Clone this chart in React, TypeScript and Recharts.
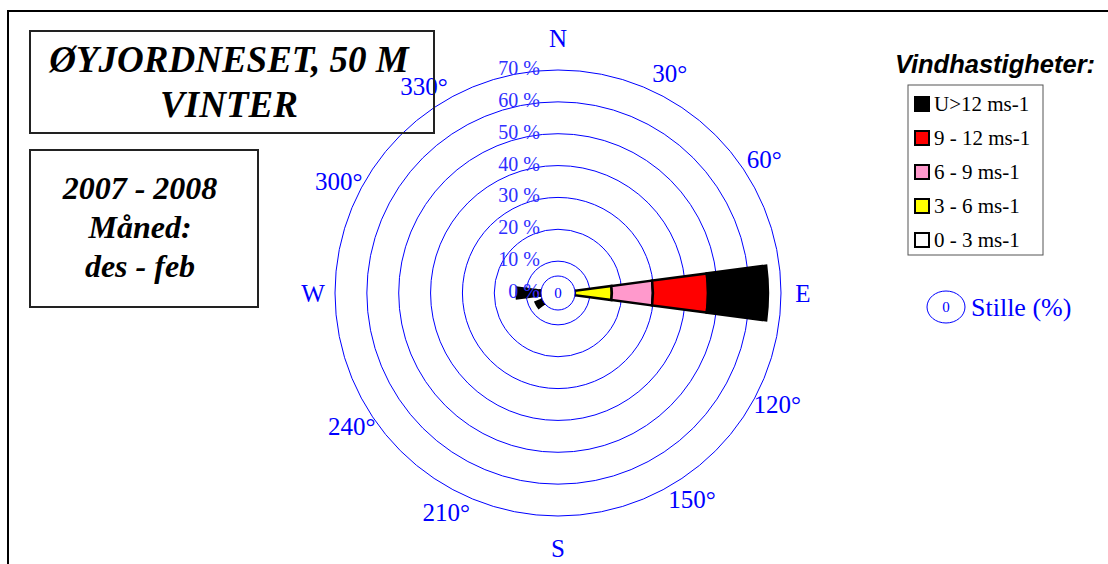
import React from "react";
import {
  RadialBarChart,
  RadialBar,
  PolarGrid,
  PolarAngleAxis,
  PolarRadiusAxis,
} from "recharts";

// wind direction bins (degrees from north), 15 degree sectors
const directions = [0, 15, 30, 45, 60, 75, 90, 105, 120, 135, 150, 165, 180, 195, 210, 225, 240, 255, 270, 285, 300, 315, 330, 345];

// frequency (%) per speed class and direction
const speed0to3 = [0, 0, 0, 0, 0, 0, 5.3, 0, 0, 0, 0, 0, 0, 0, 0, 0, 5.3, 0, 5.3, 0, 0, 0, 0, 0];
const speed3to6 = [0, 0, 0, 0, 0, 0, 11.6, 0, 0, 0, 0, 0, 0, 0, 0, 0, 0, 0, 0.2, 0, 0, 0, 0, 0];
const speed6to9 = [0, 0, 0, 0, 0, 0, 12.9, 0, 0, 0, 0, 0, 0, 0, 0, 0, 0, 0, 0.2, 0, 0, 0, 0, 0];
const speed9to12 = [0, 0, 0, 0, 0, 0, 17.3, 0, 0, 0, 0, 0, 0, 0, 0, 0, 0.3, 0, 1.2, 0, 0, 0, 0, 0];
const speedOver12 = [0, 0, 0, 0, 0, 0, 18.8, 0, 0, 0, 0, 0, 0, 0, 0, 0, 2.0, 0, 6.1, 0, 0, 0, 0, 0];

const calmPercent = 0;
const radiusTicks = [0, 10, 20, 30, 40, 50, 60, 70];
const labelAngles = [0, 30, 60, 90, 120, 150, 180, 210, 240, 270, 300, 330];
const angleLabels = ["N", "30°", "60°", "E", "120°", "150°", "S", "210°", "240°", "W", "300°", "330°"];
const legendNames = ["U>12 ms-1", "9 - 12 ms-1", "6 - 9 ms-1", "3 - 6 ms-1", "0 - 3 ms-1"];
const legendColors = ["#000000", "#ff0000", "#ff99cc", "#ffff00", "#ffffff"];

const data = directions.map((dir, i) => ({
  dir,
  s0: speed0to3[i],
  s1: speed3to6[i],
  s2: speed6to9[i],
  s3: speed9to12[i],
  s4: speedOver12[i],
}));

const CX = 558;
const CY = 293;
const BLUE = "#0000ff";
const SERIF = "'Liberation Serif', 'Times New Roman', serif";
const SANS = "'Liberation Sans', Arial, sans-serif";

const RadiusTick = (props: any) => {
  const { x, y, payload } = props;
  return (
    <text x={x - 18} y={y - 2} textAnchor="end" dominantBaseline="central" fill="#2f2fff" fontSize={20} fontFamily={SERIF}>
      {`${payload.value} %`}
    </text>
  );
};

const AngleTick = (props: any) => {
  const { payload } = props;
  const i = labelAngles.indexOf(Number(payload.value));
  if (i < 0) return <g />;
  const letter = i % 3 === 0;
  // N/S sit a bit further out than E/W
  const r = letter ? (i % 6 === 0 ? 255 : 245) : 246;
  const a = ((Number(payload.value) - (letter ? 0 : 3)) * Math.PI) / 180;
  const x = CX + r * Math.sin(a);
  const y = CY - r * Math.cos(a);
  return (
    <text x={x} y={y} textAnchor="middle" dominantBaseline="central" fill={BLUE} fontSize={25} fontFamily={SERIF}>
      {angleLabels[i]}
    </text>
  );
};

export default function App() {
  const fills = ["#ffffff", "#ffff00", "#ff99cc", "#ff0000", "#000000"];
  return (
    <div style={{ position: "absolute", left: 0, top: 0, width: 1108, height: 564, background: "#fff", overflow: "hidden" }}>
      <RadialBarChart
        width={1108}
        height={564}
        data={data}
        cx={CX}
        cy={CY}
        innerRadius={0}
        outerRadius={223}
        startAngle={82.5}
        endAngle={-277.5}
        layout="centric"
        barCategoryGap={0}
        barGap={0}
        margin={{ top: 0, right: 0, bottom: 0, left: 0 }}
      >
        <PolarGrid gridType="circle" radialLines={false} stroke={BLUE} strokeWidth={1} />
        <PolarAngleAxis dataKey="dir" type="category" axisLine={false} tickLine={false} tick={<AngleTick />} />
        {fills.map((f, k) => (
          <RadialBar
            key={k}
            dataKey={`s${k}`}
            stackId="a"
            fill={f}
            stroke="#000"
            strokeWidth={2.5}
            isAnimationActive={false}
          />
        ))}
        <PolarRadiusAxis
          angle={90}
          type="number"
          domain={[0, 70]}
          ticks={radiusTicks}
          axisLine={false}
          tickLine={false}
          tick={<RadiusTick />}
        />
      </RadialBarChart>

      <svg width={1108} height={564} style={{ position: "absolute", left: 0, top: 0, pointerEvents: "none" }}>
        <rect x={8} y={11} width={1200} height={700} fill="none" stroke="#000" strokeWidth={2} />

        {/* calm circle */}
        <circle cx={CX} cy={CY} r={17} fill="#fff" stroke={BLUE} strokeWidth={1} />
        <text x={CX} y={CY} textAnchor="middle" dominantBaseline="central" fill={BLUE} fontSize={15} fontFamily={SERIF}>
          {calmPercent}
        </text>

        {/* title boxes */}
        <rect x={30} y={31} width={404} height={102} fill="none" stroke="#222" strokeWidth={2} />
        <text x={229} y={72} textAnchor="middle" fontSize={37} fontWeight="bold" fontStyle="italic" fontFamily={SERIF}>
          ØYJORDNESET, 50 M
        </text>
        <text x={229} y={117} textAnchor="middle" fontSize={37} fontWeight="bold" fontStyle="italic" fontFamily={SERIF}>
          VINTER
        </text>

        <rect x={30} y={150} width={228} height={157} fill="none" stroke="#222" strokeWidth={2} />
        <text x={140} y={199} textAnchor="middle" fontSize={32} fontWeight="bold" fontStyle="italic" fontFamily={SERIF}>
          2007 - 2008
        </text>
        <text x={140} y={238} textAnchor="middle" fontSize={32} fontWeight="bold" fontStyle="italic" fontFamily={SERIF}>
          Måned:
        </text>
        <text x={140} y={277} textAnchor="middle" fontSize={32} fontWeight="bold" fontStyle="italic" fontFamily={SERIF}>
          des - feb
        </text>

        {/* legend */}
        <text x={995} y={73} textAnchor="middle" fontSize={25.5} fontWeight="bold" fontStyle="italic" fontFamily={SANS}>
          Vindhastigheter:
        </text>
        <rect x={908} y={85} width={135} height={170} fill="#fff" stroke="#555" strokeWidth={1} />
        {legendNames.map((name, i) => (
          <g key={name}>
            <rect x={915} y={97 + i * 34} width={14} height={14} fill={legendColors[i]} stroke="#000" strokeWidth={2} />
            <text x={934} y={104 + i * 34} dominantBaseline="central" fontSize={21} fontFamily={SERIF}>
              {name}
            </text>
          </g>
        ))}

        <ellipse cx={946} cy={307} rx={19} ry={16} fill="none" stroke={BLUE} strokeWidth={1} />
        <text x={946} y={307} textAnchor="middle" dominantBaseline="central" fill={BLUE} fontSize={15} fontFamily={SERIF}>
          {calmPercent}
        </text>
        <text x={971} y={316} fill={BLUE} fontSize={26} fontFamily={SERIF}>
          Stille (%)
        </text>
      </svg>
    </div>
  );
}
